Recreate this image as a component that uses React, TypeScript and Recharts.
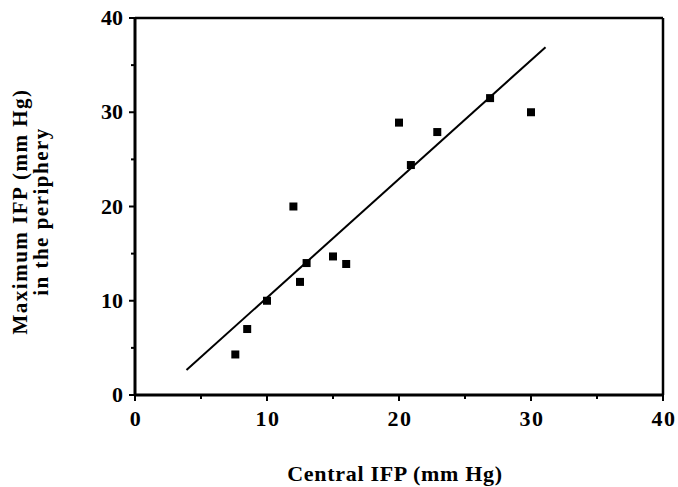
import React from 'react';
import { ScatterChart, Scatter, XAxis, YAxis, ReferenceLine } from 'recharts';

const centralIFP = [7.6, 8.5, 10, 12, 12.5, 13, 15, 16, 20, 20.9, 22.9, 26.9, 30];
const peripheryIFP = [4.3, 7, 10, 20, 12, 14, 14.7, 13.9, 28.9, 24.4, 27.9, 31.5, 30];
const fitX = [3.9, 31.1];
const fitY = [2.65, 36.9];
const axisTicks = [0, 5, 10, 15, 20, 25, 30, 35, 40];
const labeledTicks = [0, 10, 20, 30, 40];

const points = centralIFP.map((x, i) => ({ x, y: peripheryIFP[i] }));
const fitLine = fitX.map((x, i) => ({ x, y: fitY[i] }));

const FONT = '"Liberation Serif", "Times New Roman", serif';

const XTick = (props: any) => {
  const { x, y, payload } = props;
  const major = labeledTicks.includes(payload.value);
  return (
    <g>
      <line x1={x} x2={x} y1={y} y2={y + (major ? 6 : 4)} stroke="#000" strokeWidth={2} />
      {major && (
        <text x={x + 1} y={y + 26} textAnchor="middle" dominantBaseline="middle" fontFamily={FONT} fontWeight="bold" fontSize={22} letterSpacing={1.5} fill="#000">
          {payload.value}
        </text>
      )}
    </g>
  );
};

const YTick = (props: any) => {
  const { x, y, payload } = props;
  const major = labeledTicks.includes(payload.value);
  return (
    <g>
      <line x1={x} x2={x - (major ? 6 : 4)} y1={y} y2={y} stroke="#000" strokeWidth={2} />
      {major && (
        <text x={x - 12} y={y + 2} textAnchor="end" dominantBaseline="middle" fontFamily={FONT} fontWeight="bold" fontSize={22} fill="#000">
          {payload.value}
        </text>
      )}
    </g>
  );
};

const YTitle = (props: any) => {
  const vb = props.viewBox || { x: 0, y: 18, width: 135, height: 377 };
  const cy = vb.y + vb.height / 2 + 5;
  return (
    <g fontFamily={FONT} fontWeight="bold" fontSize={21} fill="#000" letterSpacing={1.5}>
      <text x={vb.x + 22} y={cy} transform={`rotate(-90, ${vb.x + 22}, ${cy})`} textAnchor="middle" dominantBaseline="middle">
        Maximum IFP (mm Hg)
      </text>
      <text x={vb.x + 43} y={cy} transform={`rotate(-90, ${vb.x + 43}, ${cy})`} textAnchor="middle" dominantBaseline="middle">
        in the periphery
      </text>
    </g>
  );
};

const XTitle = (props: any) => {
  const vb = props.viewBox || { x: 135, y: 395, width: 528, height: 92 };
  return (
    <text x={vb.x + vb.width / 2 - 4} y={vb.y + 81} textAnchor="middle" dominantBaseline="middle" fontFamily={FONT} fontWeight="bold" fontSize={22} letterSpacing={0.7} fill="#000">
      Central IFP (mm Hg)
    </text>
  );
};

const Square = (props: any) => {
  const { cx, cy } = props;
  if (cx == null || cy == null) return <g />;
  return <rect x={cx - 4} y={cy - 4} width={8} height={8} fill="#000" />;
};

const NoShape = () => <g />;

export default function App() {
  return (
    <div style={{ position: 'absolute', left: 0, top: 0, background: '#fff' }}>
      <ScatterChart width={678} height={487} margin={{ top: 18, right: 15, bottom: 0, left: 0 }}>
        <XAxis
          type="number"
          dataKey="x"
          domain={[0, 40]}
          ticks={axisTicks}
          interval={0}
          height={92}
          axisLine={{ stroke: '#000', strokeWidth: 3 }}
          tickLine={false}
          tickSize={0}
          tickMargin={0}
          tick={<XTick />}
          label={{ content: <XTitle /> }}
        />
        <YAxis
          type="number"
          dataKey="y"
          domain={[0, 40]}
          ticks={axisTicks}
          interval={0}
          width={135}
          axisLine={{ stroke: '#000', strokeWidth: 3 }}
          tickLine={false}
          tickSize={0}
          tickMargin={0}
          tick={<YTick />}
          label={{ content: <YTitle /> }}
        />
        <ReferenceLine y={40} stroke="#000" strokeWidth={2.5} />
        <ReferenceLine x={40} stroke="#000" strokeWidth={2.5} />
        <Scatter data={fitLine} line={{ stroke: '#000', strokeWidth: 2 }} shape={<NoShape />} isAnimationActive={false} />
        <Scatter data={points} shape={<Square />} isAnimationActive={false} />
      </ScatterChart>
    </div>
  );
}
